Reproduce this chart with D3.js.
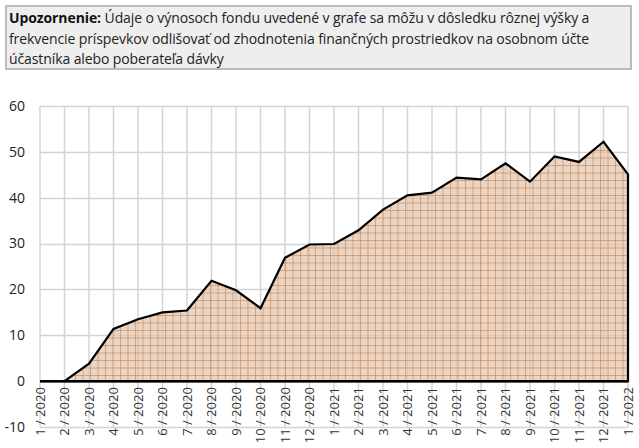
<!DOCTYPE html>
<html>
<head>
<meta charset="utf-8">
<script src="https://cdn.jsdelivr.net/npm/d3@7"></script>
<style>
  body { margin: 0; background: #fff; font-family: "Open Sans", sans-serif; }
  #note {
    position: absolute; left: 5px; top: 5px; width: 619px; height: 59px;
    background: #eeeeee; border: 2px solid #bcbcbc;
    padding: 1px 2px 1px 2px; font-size: 14px; line-height: 20.5px; color: #222;
    white-space: nowrap; letter-spacing: -0.1px;
  }
  #note b { font-weight: 700; color: #111; }
  #chart { position: absolute; left: 0; top: 0; }
</style>
</head>
<body>
<div id="chart"></div>
<div id="note"><b>Upozornenie:</b> Údaje o výnosoch fondu uvedené v grafe sa môžu v dôsledku rôznej výšky a<br>frekvencie príspevkov odlišovať od zhodnotenia finančných prostriedkov na osobnom účte<br>účastníka alebo poberateľa dávky</div>
<script>
var months = ["1 / 2020","2 / 2020","3 / 2020","4 / 2020","5 / 2020","6 / 2020","7 / 2020","8 / 2020","9 / 2020","10 / 2020","11 / 2020","12 / 2020",
              "1 / 2021","2 / 2021","3 / 2021","4 / 2021","5 / 2021","6 / 2021","7 / 2021","8 / 2021","9 / 2021","10 / 2021","11 / 2021","12 / 2021","1 / 2022"];
var values = [0, 0, 3.8, 11.4, 13.5, 15.0, 15.4, 21.9, 19.8, 15.9, 26.9, 29.8,
              29.9, 32.9, 37.4, 40.5, 41.1, 44.4, 44.0, 47.5, 43.5, 49.0, 47.8, 52.2, 45.1];
var yTicks = [-10, 0, 10, 20, 30, 40, 50, 60];

var width = 639, height = 448;
var margin = { top: 106, left: 40, right: 11, bottom: 21 };

var svg = d3.select("#chart").append("svg")
  .attr("width", width)
  .attr("height", height);

// checkered fill
var defs = svg.append("defs");
var pat = defs.append("pattern")
  .attr("id", "check")
  .attr("patternUnits", "userSpaceOnUse")
  .attr("width", 7.5).attr("height", 7.5);
pat.append("rect").attr("width", 7.5).attr("height", 7.5).attr("fill", "#e3c5ad").attr("fill-opacity", 0.7);
pat.append("line").attr("x1", 0).attr("y1", 0.5).attr("x2", 7.5).attr("y2", 0.5)
  .attr("stroke", "#bf7a45").attr("stroke-opacity", 0.55).attr("stroke-width", 1);
pat.append("line").attr("x1", 0.5).attr("y1", 0).attr("x2", 0.5).attr("y2", 7.5)
  .attr("stroke", "#bf7a45").attr("stroke-opacity", 0.55).attr("stroke-width", 1);

var x = d3.scalePoint()
  .domain(months)
  .range([margin.left, width - margin.right]);

var y = d3.scaleLinear()
  .domain([-10, 60])
  .range([height - margin.bottom, margin.top]);

// grid
svg.append("g").selectAll("line.h")
  .data(yTicks).enter().append("line")
  .attr("x1", margin.left).attr("x2", width - margin.right)
  .attr("y1", function(d) { return Math.round(y(d)) + 0.5; })
  .attr("y2", function(d) { return Math.round(y(d)) + 0.5; })
  .style("stroke", "#d4d4d4").style("stroke-width", "1.5px");

svg.append("g").selectAll("line.v")
  .data(months).enter().append("line")
  .attr("x1", function(d) { return x(d); })
  .attr("x2", function(d) { return x(d); })
  .attr("y1", y(60)).attr("y2", y(-10))
  .style("stroke", "#d4d4d4").style("stroke-width", "1.5px");

// y labels
svg.append("g").selectAll("text")
  .data(yTicks).enter().append("text")
  .attr("x", 25).attr("y", function(d) { return y(d); })
  .attr("dy", "0.35em")
  .attr("text-anchor", "end")
  .style("font-size", "14px").style("fill", "#222")
  .text(function(d) { return d; });

// area
var area = d3.area()
  .x(function(d, i) { return x(months[i]); })
  .y0(y(0))
  .y1(function(d) { return y(d); });

svg.append("path")
  .datum(values)
  .attr("d", area)
  .attr("fill", "url(#check)")
  .attr("stroke", "#000")
  .attr("stroke-width", 2.2)
  .attr("stroke-linejoin", "miter");

// zero line
svg.append("line")
  .attr("x1", margin.left).attr("x2", width - margin.right)
  .attr("y1", y(0)).attr("y2", y(0))
  .style("stroke", "#000").style("stroke-width", "2.5px");

// x labels
svg.append("g").selectAll("text")
  .data(months).enter().append("text")
  .attr("transform", function(d) { return "translate(" + x(d) + "," + (y(0) + 6) + ") rotate(-90)"; })
  .attr("dy", "0.35em")
  .attr("text-anchor", "end")
  .style("font-size", "13px").style("fill", "#333")
  .text(function(d) { return d; });
</script>
</body>
</html>
